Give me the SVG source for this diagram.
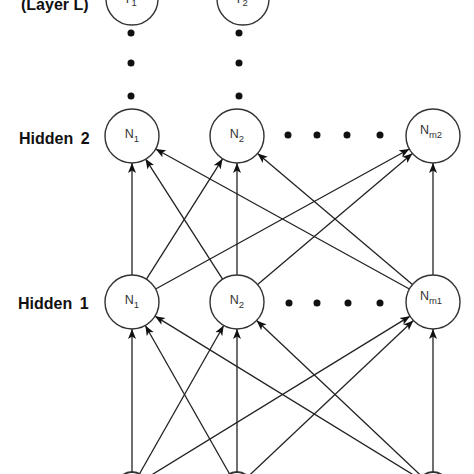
<svg xmlns="http://www.w3.org/2000/svg" width="474" height="474" viewBox="0 0 474 474">
<style>
.node{fill:#fff;stroke:#333;stroke-width:1.4}
.lbl{font-family:"Liberation Sans",Arial,sans-serif;font-size:12.5px;fill:#333;text-anchor:middle}
.sub{font-size:9.5px}
.layer{font-family:"Liberation Sans",Arial,sans-serif;font-size:16px;font-weight:bold;fill:#111}
.edge{stroke:#222;stroke-width:1.3;fill:none;marker-end:url(#arr)}
.dot{fill:#111}
</style>
<defs>
<marker id="arr" markerUnits="userSpaceOnUse" markerWidth="11" markerHeight="9" refX="10" refY="4.5" orient="auto">
<path d="M0,0.5 L10,4.5 L0,8.5 L2.5,4.5 z" fill="#111"/>
</marker>
</defs>
<rect width="474" height="474" fill="#fff"/>
<g id="labels">
<text class="layer" x="21" y="10">(Layer L)</text>
<text class="layer" x="19" y="144" word-spacing="3">Hidden 2</text>
<text class="layer" x="18" y="309" word-spacing="3">Hidden 1</text>
</g>
<g id="connectors">
<path class="edge" d="M132,472 L132,329"/>
<path class="edge" d="M139.4,473.95 L223.67,325.48"/>
<path class="edge" d="M144.8,479.1 L410,316.14"/>
<path class="edge" d="M229.6,473.95 L145.33,325.48"/>
<path class="edge" d="M237,472 L237,329"/>
<path class="edge" d="M247.9,476.7 L413.37,320.53"/>
<path class="edge" d="M420.2,479.1 L155,316.14"/>
<path class="edge" d="M422.1,476.7 L256.63,320.53"/>
<path class="edge" d="M433,472 L433,329"/>
<path class="edge" d="M132,275 L132,163"/>
<path class="edge" d="M146.43,279.18 L222.57,158.82"/>
<path class="edge" d="M155.65,288.96 L409.35,149.04"/>
<path class="edge" d="M222.57,279.18 L145.43,158.82"/>
<path class="edge" d="M237,275 L237,163"/>
<path class="edge" d="M257.6,284.55 L412.4,153.45"/>
<path class="edge" d="M409.35,288.96 L155.65,149.04"/>
<path class="edge" d="M412.4,284.55 L257.6,153.45"/>
<path class="edge" d="M433,275 L433,163"/>
</g>
<g id="out1"><circle class="node" cx="132" cy="-1" r="26"/><text class="lbl" x="130" y="3">Y<tspan class="sub" dy="3">1</tspan></text></g>
<g id="out2"><circle class="node" cx="243" cy="-1" r="26"/><text class="lbl" x="241" y="3">Y<tspan class="sub" dy="3">2</tspan></text></g>
<g id="vdots">
<circle class="dot" cx="131" cy="33" r="3.5"/><circle class="dot" cx="131" cy="63" r="3.5"/><circle class="dot" cx="131" cy="96" r="3.5"/>
<circle class="dot" cx="239" cy="33" r="3.5"/><circle class="dot" cx="239" cy="63" r="3.5"/><circle class="dot" cx="239" cy="96" r="3.5"/>
</g>
<g id="h2n1"><circle class="node" cx="132" cy="136" r="27"/><text class="lbl" x="132" y="138">N<tspan class="sub" dy="4">1</tspan></text></g>
<g id="h2n2"><circle class="node" cx="237" cy="136" r="27"/><text class="lbl" x="237" y="138">N<tspan class="sub" dy="4">2</tspan></text></g>
<g id="h2nm"><circle class="node" cx="433" cy="136" r="27"/><text class="lbl" x="431" y="134">N<tspan class="sub" dy="4">m2</tspan></text></g>
<g id="h2dots"><circle class="dot" cx="288" cy="135" r="3.5"/><circle class="dot" cx="317" cy="135" r="3.5"/><circle class="dot" cx="347" cy="135" r="3.5"/><circle class="dot" cx="380" cy="135" r="3.5"/></g>
<g id="h1n1"><circle class="node" cx="132" cy="302" r="27"/><text class="lbl" x="132" y="304">N<tspan class="sub" dy="4">1</tspan></text></g>
<g id="h1n2"><circle class="node" cx="237" cy="302" r="27"/><text class="lbl" x="237" y="304">N<tspan class="sub" dy="4">2</tspan></text></g>
<g id="h1nm"><circle class="node" cx="433" cy="302" r="27"/><text class="lbl" x="431" y="300">N<tspan class="sub" dy="4">m1</tspan></text></g>
<g id="h1dots"><circle class="dot" cx="289" cy="303" r="3.5"/><circle class="dot" cx="317" cy="303" r="3.5"/><circle class="dot" cx="348" cy="303" r="3.5"/><circle class="dot" cx="380" cy="303" r="3.5"/></g>
<g id="in1"><circle cx="132" cy="487" r="15" fill="#fff" stroke="#333" stroke-width="2"/></g>
<g id="in2"><circle cx="237" cy="487" r="15" fill="#fff" stroke="#333" stroke-width="2"/></g>
<g id="in3"><circle cx="433" cy="487" r="15" fill="#fff" stroke="#333" stroke-width="2"/></g>
</svg>
